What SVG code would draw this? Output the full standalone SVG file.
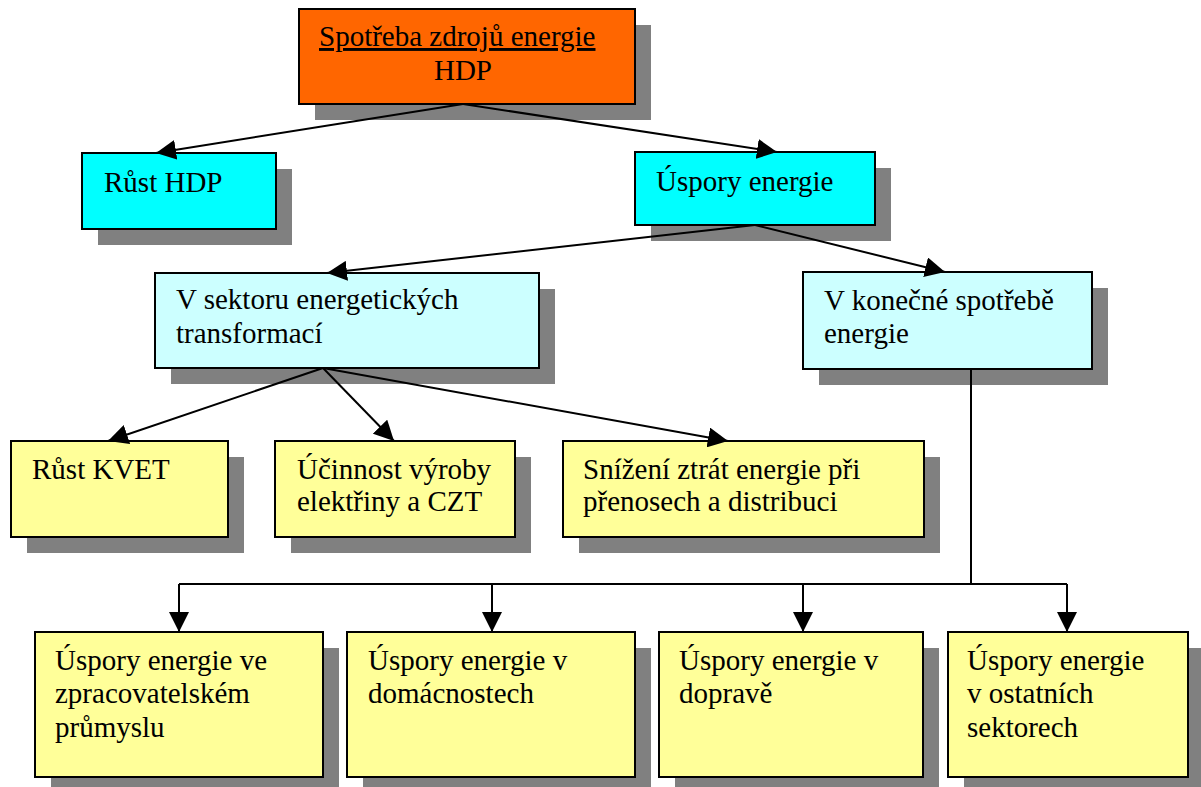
<svg xmlns="http://www.w3.org/2000/svg" width="1201" height="787" viewBox="0 0 1201 787">
<defs>
<style>
.box{stroke:#000;stroke-width:2}
.sh{fill:#808080}
text{font-family:'Liberation Serif','Times New Roman',serif;font-size:29px;fill:#000}
.c{fill:none;stroke:#000;stroke-width:2}
.orange{fill:#FF6600}
.cyan{fill:#00FFFF}
.lcyan{fill:#CCFFFF}
.yellow{fill:#FFFF99}
</style>
<marker id="ah" markerUnits="userSpaceOnUse" markerWidth="20" markerHeight="20" refX="20" refY="10" orient="auto" viewBox="0 0 20 20">
<path d="M0,0 L20,10 L0,20 z" fill="#000"/>
</marker>
</defs>
<rect width="1201" height="787" fill="#fff"/>

<g id="n-spotreba">
<rect class="sh" x="315" y="25" width="336" height="95"/>
<rect class="box orange" x="299" y="9" width="336" height="95"/>
<text x="319" y="46" text-decoration="underline">Spotřeba zdrojů energie</text>
<text x="463" y="80" text-anchor="middle">HDP</text>
</g>

<g id="n-rust-hdp">
<rect class="sh" x="98" y="169" width="194" height="76"/>
<rect class="box cyan" x="82" y="153" width="194" height="76"/>
<text x="104" y="192">Růst HDP</text>
</g>

<g id="n-uspory">
<rect class="sh" x="651" y="168" width="240" height="73"/>
<rect class="box cyan" x="635" y="152" width="240" height="73"/>
<text x="656" y="191">Úspory energie</text>
</g>

<g id="n-sektor">
<rect class="sh" x="171" y="289" width="384" height="95"/>
<rect class="box lcyan" x="155" y="273" width="384" height="95"/>
<text x="176" y="309">V sektoru energetických</text>
<text x="176" y="343">transformací</text>
</g>

<g id="n-konecna">
<rect class="sh" x="819" y="288" width="289" height="97"/>
<rect class="box lcyan" x="803" y="272" width="289" height="97"/>
<text x="824" y="310">V konečné spotřebě</text>
<text x="824" y="343">energie</text>
</g>

<g id="n-kvet">
<rect class="sh" x="27" y="457" width="217" height="96"/>
<rect class="box yellow" x="11" y="441" width="217" height="96"/>
<text x="32" y="479">Růst KVET</text>
</g>

<g id="n-ucinnost">
<rect class="sh" x="291" y="457" width="240" height="96"/>
<rect class="box yellow" x="275" y="441" width="240" height="96"/>
<text x="297" y="479">Účinnost výroby</text>
<text x="297" y="511">elektřiny a CZT</text>
</g>

<g id="n-snizeni">
<rect class="sh" x="579" y="457" width="361" height="96"/>
<rect class="box yellow" x="563" y="441" width="361" height="96"/>
<text x="583" y="479">Snížení ztrát energie při</text>
<text x="583" y="511">přenosech a distribuci</text>
</g>

<g id="n-prumysl">
<rect class="sh" x="51" y="648" width="288" height="145"/>
<rect class="box yellow" x="35" y="632" width="288" height="145"/>
<text x="55" y="670">Úspory energie ve</text>
<text x="55" y="703">zpracovatelském</text>
<text x="55" y="737">průmyslu</text>
</g>

<g id="n-domacnosti">
<rect class="sh" x="363" y="648" width="288" height="145"/>
<rect class="box yellow" x="347" y="632" width="288" height="145"/>
<text x="368" y="670">Úspory energie v</text>
<text x="368" y="703">domácnostech</text>
</g>

<g id="n-doprava">
<rect class="sh" x="675" y="648" width="264" height="145"/>
<rect class="box yellow" x="659" y="632" width="264" height="145"/>
<text x="679" y="670">Úspory energie v</text>
<text x="679" y="703">dopravě</text>
</g>

<g id="n-ostatni">
<rect class="sh" x="964" y="648" width="240" height="145"/>
<rect class="box yellow" x="948" y="632" width="240" height="145"/>
<text x="967" y="670">Úspory energie</text>
<text x="967" y="703">v ostatních</text>
<text x="967" y="737">sektorech</text>
</g>

<g id="connectors">
<line class="c" x1="463" y1="104" x2="156" y2="153" marker-end="url(#ah)"/>
<line class="c" x1="463" y1="104" x2="777" y2="152" marker-end="url(#ah)"/>
<line class="c" x1="755" y1="225" x2="327" y2="273" marker-end="url(#ah)"/>
<line class="c" x1="755" y1="225" x2="945" y2="272" marker-end="url(#ah)"/>
<line class="c" x1="323" y1="368" x2="108" y2="441" marker-end="url(#ah)"/>
<line class="c" x1="323" y1="368" x2="394" y2="441" marker-end="url(#ah)"/>
<line class="c" x1="323" y1="368" x2="728" y2="441" marker-end="url(#ah)"/>
<polyline class="c" points="971,369 971,584"/>
<polyline class="c" points="179,584 1067,584"/>
<line class="c" x1="179" y1="584" x2="179" y2="632" marker-end="url(#ah)"/>
<line class="c" x1="492" y1="584" x2="492" y2="632" marker-end="url(#ah)"/>
<line class="c" x1="803" y1="584" x2="803" y2="632" marker-end="url(#ah)"/>
<line class="c" x1="1067" y1="584" x2="1067" y2="632" marker-end="url(#ah)"/>
</g>
</svg>
